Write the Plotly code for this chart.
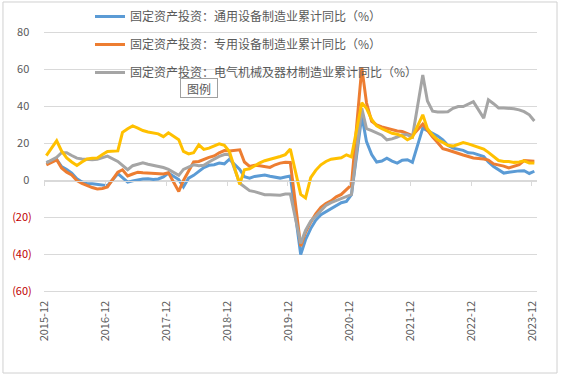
import plotly.graph_objects as go

# ---- data ----
months = ["2015-12"] + [f"{y}-{m:02d}" for y in range(2016, 2024) for m in range(2, 13)]

general_equipment = [
    9.8,
    11.4, 7.5, 6.0, 4.0, 1.0, -0.8, -1.7, -1.8, -2.2, -2.5, -2.8,
    3.7, 1.5, -0.9, -0.2, 0.4, 0.8, 1.0, 0.5, 0.8, 1.9, 4.0,
    0.5, -3.5, 1.3, 2.8, 5.0, 7.0, 8.2, 8.5, 9.4, 9.0, 11.5,
    6.0, 2.0, 1.3, 2.2, 2.8, 3.0, 2.3, 1.8, 1.3, 1.9, 2.4,
    -40.0, -32.0, -26.0, -21.5, -18.5, -17.0, -15.0, -13.5, -12.0, -11.3, -7.7,
    35.0, 21.0, 14.0, 10.0, 10.5, 12.1, 10.5, 9.4, 11.0, 11.2, 9.8,
    28.3, 27.0, 25.6, 24.0, 22.0, 19.0, 17.5, 17.0, 16.3, 15.0, 14.8,
    13.0, 10.0, 7.5, 5.8, 4.0, 4.5, 5.0, 5.2, 5.3, 3.8, 5.0,
]
special_equipment = [
    8.5,
    11.2, 6.8, 4.5, 3.0, 0.0, -1.5, -2.8, -3.8, -4.6, -4.3, -3.5,
    4.5, 5.8, 2.5, 3.5, 4.5, 4.2, 4.0, 3.8, 3.5, 3.5, 4.2,
    -5.9, 0.0, 5.5, 10.0, 10.3, 11.5, 12.5, 13.3, 15.0, 16.2, 16.0,
    16.6, 10.0, 7.6, 8.2, 8.0, 7.6, 7.1, 8.5, 9.4, 9.8, 9.7,
    -35.5, -28.0, -22.5, -18.0, -14.5, -12.5, -11.0, -8.8, -7.5, -5.0, -2.3,
    61.0, 42.0, 32.0, 30.0, 29.0, 28.3, 27.2, 26.8, 26.5, 25.5, 24.3,
    30.5, 27.0, 23.5, 20.5, 17.2, 16.5, 15.5, 14.8, 13.8, 13.0, 12.2,
    11.6, 11.0, 9.0, 8.5, 7.8, 6.8, 7.5, 8.5, 10.8, 10.5, 10.4,
]
electrical_machinery = [
    9.5,
    12.5, 15.0, 15.0, 13.5, 12.1, 11.6, 11.2, 11.2, 11.5, 12.5, 13.2,
    10.3, 8.0, 5.8, 8.0, 9.0, 9.6, 8.8, 8.3, 7.6, 7.0, 6.0,
    2.8, 6.0, 7.5, 8.5, 8.0, 8.2, 10.0, 11.5, 13.0, 14.0, 14.0,
    -1.5, -3.5, -5.5, -6.0, -6.7, -7.7, -7.7, -8.0, -8.0, -7.3, -7.3,
    -34.0, -27.0, -22.0, -19.0, -16.0, -13.5, -12.0, -10.8, -10.0, -8.8, -7.6,
    39.0, 28.0, 27.0, 25.6, 24.5, 22.0, 22.5, 23.5, 24.7, 24.7, 23.5,
    57.0, 43.0, 37.5, 37.0, 37.0, 37.2, 39.0, 40.0, 40.0, 41.5, 42.6,
    33.7, 43.6, 41.5, 39.2, 39.2, 39.1, 38.8, 38.2, 37.2, 35.5, 32.2,
]
fourth_series = [
    13.4,
    21.5, 16.0, 12.2, 10.0, 8.1, 10.0, 11.6, 12.0, 12.2, 14.0, 15.7,
    16.0, 26.0, 28.0, 29.5, 28.3, 27.0, 26.2, 25.6, 25.2, 23.7, 25.8,
    22.0, 15.7, 14.4, 15.0, 19.3, 16.8, 17.5, 18.5, 19.8, 19.0, 15.7,
    -2.0, 5.8, 6.3, 8.0, 9.5, 10.7, 11.4, 12.2, 13.0, 14.0, 17.0,
    -7.5, -9.4, 1.5, 5.5, 8.5, 10.3, 11.5, 11.8, 12.3, 13.9, 12.8,
    42.0, 39.0, 33.0, 29.5, 28.0, 26.9, 25.5, 25.0, 24.0, 22.0, 23.4,
    35.5, 28.0, 24.5, 22.0, 20.6, 19.0, 18.6, 19.5, 20.5, 19.8, 19.0,
    17.0, 15.2, 13.0, 10.8, 10.3, 10.3, 9.8, 10.0, 10.6, 9.4, 9.4,
]

series_names = [
    "固定资产投资：通用设备制造业累计同比（%）",
    "固定资产投资：专用设备制造业累计同比（%）",
    "固定资产投资：电气机械及器材制造业累计同比（%）",
    "",
]
series_colors = ["#5B9BD5", "#ED7D31", "#A5A5A5", "#FFC000"]

y_tickvals = [-60, -40, -20, 0, 20, 40, 60, 80]
y_ticklabels = ["(60)", "(40)", "(20)", "0", "20", "40", "60", "80"]
y_range = [-60.27, 97.03]      # headroom above 80 holds the legend
x_tick_start = "2015-12-01"
x_range = ["2015-12-01", "2023-12-31"]

# ---- figure ----
dates = [m + "-15" for m in months]
FONT = "Microsoft YaHei, Noto Sans CJK SC, sans-serif"
TXT = "#595959"
GRID = "#D9D9D9"

fig = go.Figure()

# horizontal gridlines at each y tick value, spanning the x range (beneath the data)
grid_x, grid_y = [], []
for v in y_tickvals:
    grid_x += [x_range[0], x_range[1], None]
    grid_y += [v, v, None]
fig.add_trace(go.Scatter(
    x=grid_x, y=grid_y, mode="lines", line=dict(color=GRID, width=1),
    showlegend=False, hoverinfo="skip", legendgroup="grid",
))

all_series = [general_equipment, special_equipment, electrical_machinery, fourth_series]
for i, (vals, name, col) in enumerate(zip(all_series, series_names, series_colors)):
    fig.add_trace(go.Scatter(
        x=dates, y=vals, mode="lines", name=name,
        line=dict(color=col, width=3),
        showlegend=bool(name), legendgroup=f"g{i}",
    ))

ticktext = [
    f'<span style="color:#C00000">{t}</span>' if v < 0 else t + "&nbsp;"
    for v, t in zip(y_tickvals, y_ticklabels)
]

zero_pos = (0 - y_range[0]) / (y_range[1] - y_range[0])

fig.update_layout(
    template="none",
    width=562, height=378,
    margin=dict(l=44, r=25, t=1, b=86),
    paper_bgcolor="white", plot_bgcolor="white",
    font=dict(family=FONT, size=11, color=TXT),
    showlegend=True,
    legend=dict(
        x=0.0933, xanchor="left", y=0.9966, yanchor="top",
        bgcolor="rgba(0,0,0,0)", font=dict(size=12, color=TXT),
        tracegroupgap=9, itemwidth=30,
    ),
    xaxis=dict(
        type="date", range=x_range, tick0=x_tick_start, dtick="M12",
        tickformat="%Y-%m", tickangle=-90, showgrid=False, zeroline=False,
        anchor="free", position=zero_pos,
        showline=True, linecolor=GRID, linewidth=1,
        ticks="outside", ticklen=4, tickcolor=GRID, tickwidth=1,
        tickfont=dict(size=11, color=TXT),
        ticklabelstandoff=111, automargin=False,
    ),
    yaxis=dict(
        range=y_range, tickmode="array", tickvals=y_tickvals, ticktext=ticktext,
        showgrid=True, gridcolor=GRID, gridwidth=1,
        zeroline=False, showline=False, ticks="outside", ticklen=9,
        tickcolor="rgba(0,0,0,0)", tickfont=dict(size=11, color=TXT),
        automargin=False,
    ),
    hovermode=False,
)

# outer chart border
fig.add_shape(type="rect", xref="paper", yref="paper",
              x0=-0.0832, x1=1.0406, y0=-0.2784, y1=0.9966,
              line=dict(color="#D0D0D0", width=1), fillcolor="rgba(0,0,0,0)",
              layer="above")

# "图例" tooltip box
fig.add_annotation(text="图例", xref="paper", yref="paper",
                   x=0.3144, y=0.7027, xanchor="center", yanchor="middle",
                   showarrow=False, width=34, height=16, borderpad=1,
                   font=dict(size=12, color=TXT), bgcolor="white",
                   bordercolor="#A0A0A0", borderwidth=1)

fig.write_html("out.html", config={"displayModeBar": False},
               post_script="document.body.style.margin='0';")
